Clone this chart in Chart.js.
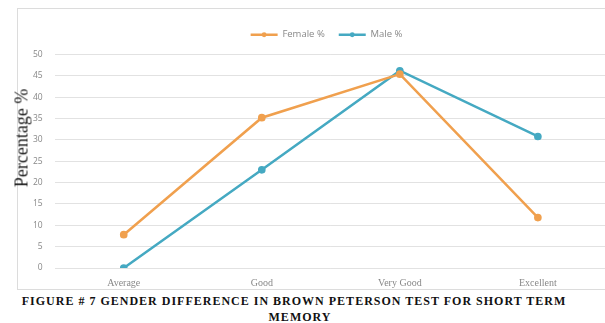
<!DOCTYPE html>
<html>
<head>
<meta charset="utf-8">
<script src="https://cdn.jsdelivr.net/npm/chart.js@4"></script>
<style>
  body { margin: 0; background: #fff; width: 605px; height: 323px; overflow: hidden; position: relative; }
  #card { position: absolute; left: 17px; top: 8px; width: 600px; height: 282px; border: 1px solid #dcdcdc; box-sizing: border-box; }
  #wrap { position: absolute; left: 0; top: 0; width: 612px; height: 290px; }
  #ytitle { position: absolute; left: 22px; top: 138px; transform: translate(-50%, -50%) rotate(-90deg);
    font-family: "Liberation Serif", "Times New Roman", serif; font-size: 18px; color: #1a1a1a; white-space: nowrap; }
  #caption { position: absolute; left: 0; top: 293px; width: 588px; text-align: center;
    font-family: "Liberation Serif", "Times New Roman", serif; font-weight: bold; font-size: 12px;
    letter-spacing: 1px; line-height: 16px; color: #111; }
  #caption .l2 { display: block; padding-left: 12px; }
</style>
</head>
<body>
<div id="card"></div>
<div id="wrap"><canvas id="myChart"></canvas></div>
<div id="ytitle">Percentage %</div>
<div id="caption">FIGURE # 7 GENDER DIFFERENCE IN BROWN PETERSON TEST FOR SHORT TERM<span class="l2">MEMORY</span></div>
<script>
const categories = ['Average', 'Good', 'Very Good', 'Excellent'];
const femaleValues = [7.8, 35.2, 45.4, 11.8];
const maleValues = [0, 23, 46.2, 30.8];
const yTicks = [0, 5, 10, 15, 20, 25, 30, 35, 40, 45, 50];

const orange = '#f0a04e';
const teal = '#45a9c2';
const legendShift = 10;

// legend a bit to the right with room below it, plus the little dot
// on each legend line like the excel legend
const legendTweaks = {
  id: 'legendTweaks',
  beforeInit(chart) {
    const lg = chart.legend;
    const fit = lg.fit;
    lg.fit = function () {
      fit.call(this);
      this.height += 5;
    };
    const draw = lg.draw;
    lg.draw = function () {
      const c = this.ctx;
      c.save();
      c.translate(legendShift, 0);
      draw.call(this);
      this.legendHitBoxes.forEach((box, i) => {
        c.fillStyle = chart.data.datasets[i].borderColor;
        c.beginPath();
        c.arc(box.left + 13.5, box.top + box.height / 2, 2.4, 0, Math.PI * 2);
        c.fill();
      });
      c.restore();
    };
  }
};

const ctx = document.getElementById('myChart');
new Chart(ctx, {
  type: 'line',
  data: {
    labels: categories,
    datasets: [{
      label: 'Female %',
      data: femaleValues,
      borderColor: orange,
      backgroundColor: orange,
      borderWidth: 2.5,
      pointRadius: 2.6,
      pointHoverRadius: 2.6,
      tension: 0
    }, {
      label: 'Male %',
      data: maleValues,
      borderColor: teal,
      backgroundColor: teal,
      borderWidth: 2.5,
      pointRadius: 2.6,
      pointHoverRadius: 2.6,
      tension: 0
    }]
  },
  options: {
    responsive: true,
    maintainAspectRatio: false,
    animation: false,
    layout: { padding: { top: 16, left: 21, right: 0, bottom: 0 } },
    plugins: {
      tooltip: { enabled: false },
      legend: {
        position: 'top',
        labels: {
          usePointStyle: true,
          pointStyle: 'line',
          pointStyleWidth: 27,
          color: '#888',
          padding: 14,
          font: { family: 'Open Sans', size: 9.5 }
        }
      }
    },
    scales: {
      x: {
        offset: true,
        grid: { display: false },
        border: { display: false },
        ticks: { color: '#888', padding: 1, font: { family: 'Liberation Serif', size: 10 } }
      },
      y: {
        min: 0,
        max: 50,
        afterBuildTicks(axis) { axis.ticks = yTicks.map(v => ({ value: v })); },
        grid: { color: '#e2e2e2', lineWidth: 1, drawTicks: false },
        border: { display: false },
        ticks: { color: '#888', padding: 12, font: { family: 'Open Sans', size: 8.5 } }
      }
    }
  },
  plugins: [legendTweaks]
});
</script>
</body>
</html>
